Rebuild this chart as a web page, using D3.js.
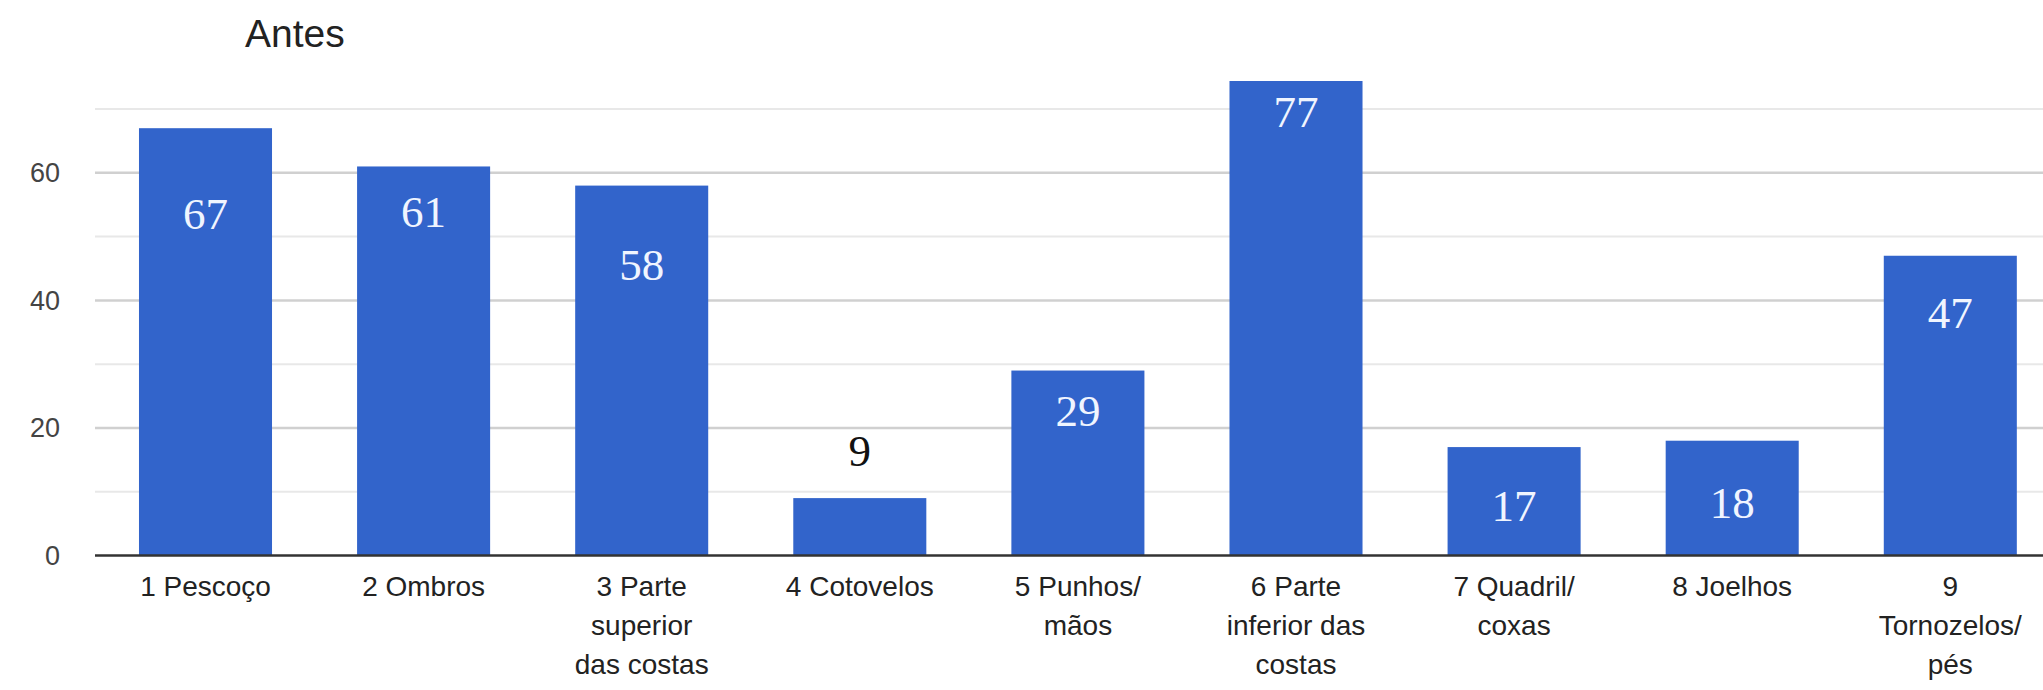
<!DOCTYPE html>
<html>
<head>
<meta charset="utf-8">
<script src="https://cdn.jsdelivr.net/npm/d3@7"></script>
<style>
  html, body { margin: 0; padding: 0; background: #fff; }
  svg { display: block; }
</style>
</head>
<body>
<svg id="chart" width="2043" height="690"></svg>
<script>
// ---- data ----
const title = "Antes";
const categories = [
  "1 Pescoço",
  "2 Ombros",
  "3 Parte\nsuperior\ndas costas",
  "4 Cotovelos",
  "5 Punhos/\nmãos",
  "6 Parte\ninferior das\ncostas",
  "7 Quadril/\ncoxas",
  "8 Joelhos",
  "9\nTornozelos/\npés"
];
const values = [67, 61, 58, 9, 29, 77, 17, 18, 47];
// annotation label anchor (in value units, as placed in the picture)
const labelAt = [53.7, 53.9, 45.6, 16.5, 22.8, 69.6, 7.9, 8.4, 38.2];
const majorTicks = [0, 20, 40, 60];
const minorTicks = [10, 30, 50, 70];
const viewMax = 74.4;

// ---- layout ----
const svg = d3.select("#chart");
const plot = { left: 95, top: 81, bottom: 555.5 };

const x = d3.scaleBand()
  .domain(categories)
  .range([96.45, 96.45 + 9 * 218.1])
  .paddingInner(0.39)
  .paddingOuter(0.195);

const y = d3.scaleLinear()
  .domain([0, viewMax])
  .range([plot.bottom, plot.top]);

svg.append("defs").append("clipPath").attr("id", "plotclip")
  .append("rect")
  .attr("x", 0).attr("y", plot.top)
  .attr("width", 2043).attr("height", plot.bottom - plot.top + 2);

// title
svg.append("text")
  .attr("x", 245).attr("y", 47)
  .attr("font-family", "Liberation Sans, Arial, sans-serif")
  .attr("font-size", 39)
  .attr("fill", "#222")
  .text(title);

// minor gridlines
svg.append("g").selectAll("line").data(minorTicks).join("line")
  .attr("x1", plot.left).attr("x2", 2043)
  .attr("y1", d => y(d)).attr("y2", d => y(d))
  .attr("stroke", "#e8e8e8").attr("stroke-width", 2);

// major gridlines
svg.append("g").selectAll("line").data(majorTicks.filter(d => d !== 0)).join("line")
  .attr("x1", plot.left).attr("x2", 2043)
  .attr("y1", d => y(d)).attr("y2", d => y(d))
  .attr("stroke", "#d0d0d0").attr("stroke-width", 2.5);

// y axis labels
const yAxis = d3.axisLeft(y).tickValues(majorTicks).tickSize(0).tickPadding(0);
const yg = svg.append("g").attr("transform", "translate(60,0)").call(yAxis);
yg.select(".domain").remove();
yg.selectAll("text")
  .attr("font-family", "Liberation Sans, Arial, sans-serif")
  .attr("font-size", 27)
  .attr("fill", "#444");

// bars
svg.append("g").attr("clip-path", "url(#plotclip)")
  .selectAll("rect").data(values).join("rect")
  .attr("x", (d, i) => x(categories[i]))
  .attr("width", x.bandwidth())
  .attr("y", d => y(d))
  .attr("height", d => y(0) - y(d))
  .attr("fill", "#3264cb");

// baseline
svg.append("line")
  .attr("x1", plot.left).attr("x2", 2043)
  .attr("y1", y(0)).attr("y2", y(0))
  .attr("stroke", "#333").attr("stroke-width", 2.5);

// value labels
svg.append("g").selectAll("text").data(values).join("text")
  .attr("x", (d, i) => x(categories[i]) + x.bandwidth() / 2)
  .attr("y", (d, i) => y(labelAt[i]))
  .attr("dy", "0.35em")
  .attr("text-anchor", "middle")
  .attr("font-family", "Liberation Serif, Times New Roman, serif")
  .attr("font-size", 45)
  .attr("fill", (d, i) => labelAt[i] > d ? "#111" : "#f0f5ff")
  .text(d => d);

// x axis labels
const xAxis = d3.axisBottom(x).tickSize(0).tickPadding(0).tickFormat("");
const xg = svg.append("g").attr("transform", `translate(0,${plot.bottom})`).call(xAxis);
xg.select(".domain").remove();
xg.selectAll(".tick").each(function(d) {
  const lines = d.split("\n");
  const t = d3.select(this).append("text")
    .attr("text-anchor", "middle")
    .attr("font-family", "Liberation Sans, Arial, sans-serif")
    .attr("font-size", 28)
    .attr("fill", "#222");
  lines.forEach((ln, k) => {
    t.append("tspan").attr("x", 0).attr("y", 40 + k * 39).text(ln);
  });
});
</script>
</body>
</html>
